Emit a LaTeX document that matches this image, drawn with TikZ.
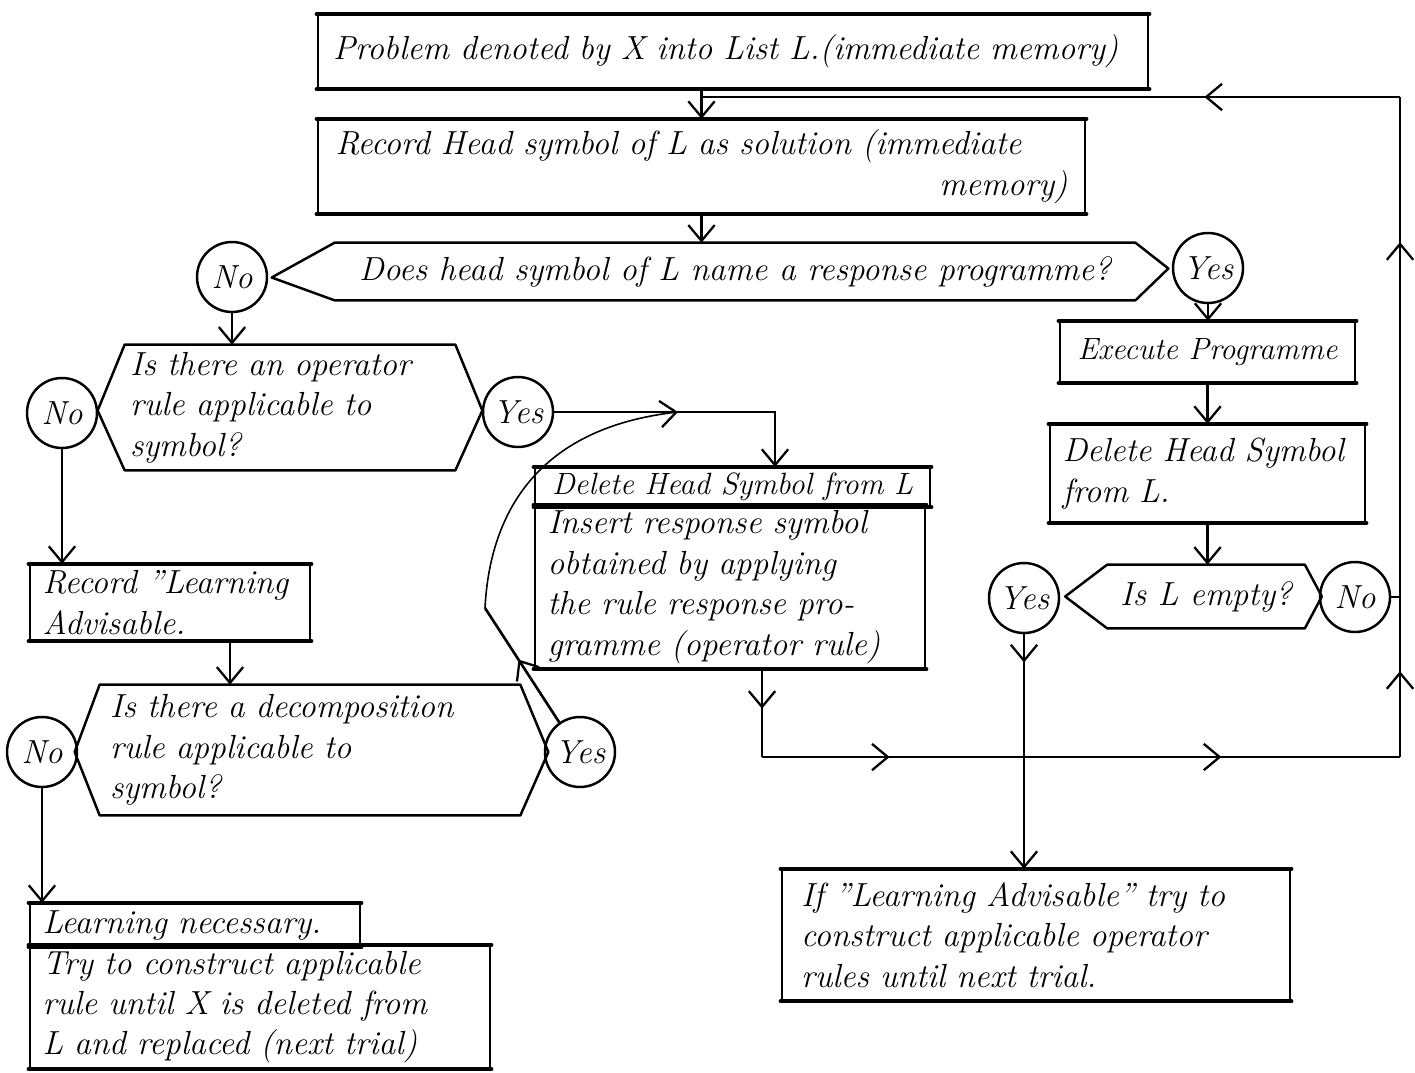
\documentclass[tikz,border=0pt]{standalone}
\usepackage{fontspec}
\usetikzlibrary{arrows.meta,decorations.markings,calc}
\begin{document}
\begin{tikzpicture}[x=0.02cm,y=-0.02cm,
  lbl/.style={font=\fontsize{19}{23}\selectfont\itshape},
  smalllbl/.style={font=\fontsize{17.5}{21}\selectfont\itshape},
  thickedges/.style={append after command={\pgfextra{\let\mylastnd\tikzlastnode}
     (\mylastnd.north west) edge[line width=2.6pt,line cap=round] (\mylastnd.north east)
     (\mylastnd.south west) edge[line width=2.6pt,line cap=round] (\mylastnd.south east)}},
  box/.style={lbl, draw, line width=1.3pt, inner sep=0pt, align=left, thickedges},
  sz/.style 2 args={minimum width=#1*0.02cm, minimum height=#2*0.02cm},
  tw/.style={text width=#1*0.02cm},
  dec/.style={lbl, inner sep=0pt, align=left},
  hexline/.style={line width=1.4pt, line join=round},
  circ/.style={lbl, draw, circle, line width=1.4pt, minimum size=70*0.02cm, inner sep=0pt},
  tip/.style={-{Straight Barb[length=9pt,width=15pt,line width=1.3pt]}},
  conn/.style={line width=1.5pt},
  arr/.style={conn, tip},
  midarr/.style={postaction={decorate,decoration={markings,
     mark=at position #1 with {\arrow{Straight Barb[length=9pt,width=15pt,line width=1.3pt]}}}}}
]
\useasboundingbox (0,0) rectangle (1415,1072);

% ---- top boxes
\node[box, sz={830}{73}, tw=800] (b1) at (733,51.5)
  {Problem denoted by X into List L.(immediate memory)};
\node[box, sz={767}{93}, tw=732] (b2) at (701.5,166.5)
  {Record Head symbol of L as solution (immediate\\\hspace*{\fill}memory)};

% ---- decision 1
\node[dec, sz={800}{57}, align=center] (d1) at (735,271.5)
  {Does head symbol of L name a response programme?};
\draw[hexline] (d1.north west) -- (d1.north east) -- ($(d1.east)+(33,-3)$)
  -- (d1.south east) -- (d1.south west) -- ($(d1.west)+(-63,6)$) -- cycle;
\node[circ] (n1) at (232,277) {No};
\node[circ] (y1) at (1208,268) {Yes};

% ---- decision 2
\node[dec, sz={330}{125}, tw=320] (d2) at (290,407.5)
  {Is there an operator\\rule applicable to\\symbol?};
\draw[hexline] (d2.north west) -- (d2.north east) -- ($(d2.east)+(27,3)$)
  -- (d2.south east) -- (d2.south west) -- ($(d2.west)+(-27,3)$) -- cycle;
\node[circ] (n2) at (62,413) {No};
\node[circ] (y2) at (518,412) {Yes};

% ---- record learning advisable
\node[box, sz={280}{75}, tw=255] (b3) at (170,602.5)
  {Record "Learning\\Advisable.};

% ---- decision 3
\node[dec, sz={420}{130}, tw=400] (d3) at (310,750)
  {Is there a decomposition\\rule applicable to\\symbol?};
\draw[hexline] (d3.north west) -- (d3.north east) -- ($(d3.east)+(28,2)$)
  -- (d3.south east) -- (d3.south west) -- ($(d3.west)+(-25,2)$) -- cycle;
\node[circ] (n3) at (42,752) {No};
\node[circ] (y3) at (580,752) {Yes};

% ---- learning necessary
\node[box, sz={330}{42}, tw=305] (b4) at (195,925) {Learning necessary.};
\node[box, sz={460}{122}, tw=435] (b4b) at (260,1007)
  {Try to construct applicable\\rule until X is deleted from\\L and replaced (next trial)};

% ---- delete / insert (operator rule)
\node[box, smalllbl, sz={395}{38}] (b5) at (732.5,487) {Delete Head Symbol from L};
\node[box, sz={390}{162}, tw=365] (b6) at (730,587)
  {Insert response symbol\\obtained by applying\\the rule response pro-\\gramme (operator rule)};

% ---- right column
\node[box, smalllbl, sz={295}{60}] (b7) at (1207.5,352) {Execute Programme};
\node[box, sz={315}{97}, tw=290] (b8) at (1207.5,473.5) {Delete Head Symbol\\from L.};
\node[dec, sz={197}{63}, align=center] (d4) at (1206,596.5) {Is L empty?};
\draw[hexline] (d4.north west) -- (d4.north east) -- ($(d4.east)+(17,0)$)
  -- (d4.south east) -- (d4.south west) -- ($(d4.west)+(-42,0)$) -- cycle;
\node[circ] (n4) at (1355,597) {No};
\node[circ] (y4) at (1024,598) {Yes};

% ---- final box
\node[box, sz={508}{130}, tw=470] (b9) at (1036,935)
  {If "Learning Advisable" try to\\construct applicable operator\\rules until next trial.};

% ---- coordinates for connector bends
\coordinate (k1) at (230,0);
\coordinate (k2) at (775,412);
\coordinate (j1) at (678,412);
\coordinate (m1) at (485,608);
\coordinate (k3) at (762,0);
\coordinate (c1) at (762,757);
\coordinate (c2) at (1400,757);
\coordinate (c3) at (1400,97);
\coordinate (c4) at (701.5,97);
\coordinate (c5) at (1400,597);

% ---- connectors
\draw[arr] (b1.south -| b2.north) -- (b2.north);
\draw[arr] (b2.south) -- (b2.south |- d1.north);
\draw[arr] (n1.south) -- (n1.south |- d2.north);
\draw[arr] (n2.south) -- (n2.south |- b3.north);
\draw[arr] (b3.south -| k1) -- (d3.north -| k1);
\draw[arr] (n3.south) -- (n3.south |- b4.north);
\draw[arr] (y2.east) -- (k2) -- (b5.north -| k2);
\draw[conn, midarr=0.55] (y3.125) -- (m1);
\draw[line width=0.9pt, tip] (m1) .. controls (490,510) and (540,428) .. (j1);
\draw[conn, midarr=0.45] (b6.south -| k3) -- (c1);
\draw[conn, midarr=0.2, midarr=0.72] (c1) -- (c2);
\draw[conn, midarr=0.13, midarr=0.78] (c2) -- (c3);
\draw[conn, midarr=0.28] (c3) -- (c4);
\draw[conn] (n4.east) -- (c5);
\draw[arr] (y1.south) -- (y1.south |- b7.north);
\draw[arr] (b7.south) -- (b8.north);
\draw[arr] (b8.south) -- (b8.south |- d4.north);
\draw[arr, midarr=0.12] (y4.south) -- (y4.south |- b9.north);
\end{tikzpicture}
\end{document}
